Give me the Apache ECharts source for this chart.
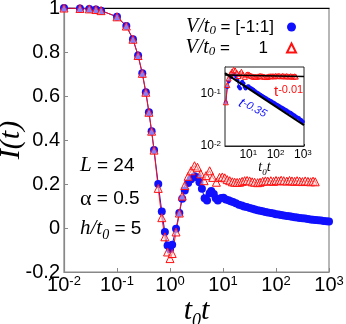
<!DOCTYPE html>
<html><head><meta charset="utf-8">
<script src="https://cdn.jsdelivr.net/npm/echarts@6/dist/echarts.min.js"></script>
<style>html,body{margin:0;padding:0;background:#fff}#c{width:346px;height:324px}</style>
</head><body><div id="c"></div>
<script>
const tBlue = [0.01,0.02,0.03,0.04,0.05,0.1,0.15,0.2,0.25,0.3,0.35,0.4,0.45,0.5,0.6,0.7,0.8,0.9,1.0,1.1,1.3,1.5,1.7,1.9,2.2,2.5,2.9,3.3,3.6,4.0,4.5,5.0,5.6,6.0,6.7,7.3,8.0,9.3,10.2,11.3,12.7,14,15.5,17.5,20,22.5,25,28,32,36,40,45,50,56,63,70,80,90,100,112,125,140,160,180,200,225,250,280,315,355,400,450,500,560,630,710,800,900,1000];
const iBlue = [1.0,0.998,0.996,0.993,0.988,0.96,0.918,0.858,0.784,0.703,0.617,0.526,0.44,0.354,0.20,0.075,-0.018,-0.079,-0.097,-0.076,-0.003,0.068,0.133,0.17,0.205,0.222,0.235,0.23,0.208,0.178,0.135,0.125,0.158,0.168,0.155,0.135,0.125,0.136,0.138,0.13,0.126,0.122,0.118,0.112,0.106,0.102,0.098,0.095,0.091,0.087,0.084,0.081,0.078,0.076,0.073,0.071,0.068,0.066,0.063,0.061,0.059,0.057,0.055,0.053,0.051,0.049,0.048,0.046,0.044,0.043,0.041,0.039,0.038,0.036,0.035,0.034,0.032,0.031,0.029];
const tRed = [0.01,0.02,0.03,0.04,0.05,0.1,0.15,0.2,0.25,0.3,0.35,0.4,0.45,0.5,0.6,0.7,0.8,0.9,1.0,1.1,1.3,1.5,1.7,1.9,2.2,2.5,2.9,3.3,3.8,4.4,4.8,5.6,6.4,7.5,8.6,9.7,10.8,12,13.4,15,16.6,18.5,20.6,23,25.6,28.5,31.8,35.5,39.5,45,50,56,63,70,80,90,100,112,125,140,160,180,200,225,250,280,315,355,400,450,500,550];
const iRed = [1.0,0.998,0.996,0.993,0.988,0.96,0.918,0.858,0.784,0.703,0.617,0.526,0.44,0.354,0.18,0.047,-0.04,-0.109,-0.139,-0.116,-0.018,0.068,0.145,0.193,0.235,0.26,0.283,0.276,0.246,0.215,0.238,0.26,0.23,0.208,0.23,0.232,0.228,0.22,0.215,0.21,0.208,0.207,0.208,0.212,0.215,0.216,0.214,0.21,0.208,0.206,0.208,0.212,0.214,0.213,0.215,0.212,0.216,0.214,0.217,0.215,0.213,0.216,0.214,0.212,0.215,0.213,0.211,0.214,0.212,0.21,0.213,0.21];
// fit lines in the inset (end points)
const fitSlow = [[1.4, 0.226], [1100, 0.211]];   // t^-0.01
const fitFast = [[1.4, 0.245], [1100, 0.025]];   // t^-0.35
const yTickLabels = ['-0.2','0','0.2','0.4','0.6','0.8','1'];

const SANS = 'Liberation Sans';
const SERIF = 'Liberation Serif';
const pair = (ts, vs, f) => ts.map((t, k) => [t, vs[k]]).filter(f || (() => true));
const insetFilter = p => p[0] >= 1.4 && p[1] > 0;
const powLabel = () => v => {
  const e = Math.log10(v);
  if (Math.abs(e - Math.round(e)) > 1e-6) return '';
  return '{b|10}{s|' + Math.round(e) + '}';
};

const chart = echarts.init(document.getElementById('c'), null, {renderer: 'canvas'});
chart.setOption({
  animation: false,
  backgroundColor: '#fff',
  grid: [
    {left: 64, right: 17, top: 8, bottom: 52, show: true, borderColor: '#888', borderWidth: 1.2, outerBoundsMode: 'none', containLabel: false},
    {left: 225, top: 67, width: 79, height: 79, show: true, borderColor: '#222', borderWidth: 1, backgroundColor: '#fff', z: 5, outerBoundsMode: 'none', containLabel: false}
  ],
  legend: {
    orient: 'vertical', right: 44, top: 12, align: 'right', itemWidth: 9, itemHeight: 9, itemGap: 1,
    selectedMode: false,
    data: [{name: 'blue', icon: 'circle'}, {name: 'red', icon: 'triangle'}],
    formatter: name => name === 'blue' ? '{i|V/t}{sub|0}{n| = [-1:1]}' : '{i|V/t}{sub|0}{n| =}{v|1}',
    textStyle: {
      rich: {
        i: {fontFamily: SERIF, fontStyle: 'italic', fontSize: 20, color: '#000'},
        sub: {fontFamily: SERIF, fontStyle: 'italic', fontSize: 13, color: '#000', verticalAlign: 'bottom'},
        n: {fontFamily: SANS, fontSize: 17, color: '#000', padding: [0, 8, 0, 0]},
        v: {fontFamily: SANS, fontSize: 17, color: '#000', width: 30, align: 'right', padding: [0, 14, 0, 0]}
      }
    }
  },
  xAxis: [
    {type: 'log', gridIndex: 0, min: 0.01, max: 1000, logBase: 10,
     axisLine: {onZero: false, lineStyle: {color: '#888', width: 1.2}},
     axisTick: {inside: true, length: 4, lineStyle: {color: '#888'}},
     splitLine: {show: false},
     axisLabel: {margin: 3, formatter: powLabel(), color: '#000',
       rich: {b: {fontFamily: SANS, fontSize: 20, color: '#000'}, s: {fontFamily: SANS, fontSize: 13, color: '#000', verticalAlign: 'top'}}},
     name: '{i|t}{sub|0}{i|t}', nameLocation: 'middle', nameGap: 20, nameMoveOverlap: false,
     nameTextStyle: {rich: {
       i: {fontFamily: SERIF, fontStyle: 'italic', fontSize: 30, color: '#000'},
       sub: {fontFamily: SERIF, fontStyle: 'italic', fontSize: 18, color: '#000', verticalAlign: 'bottom', padding: [20, 0, 0, 0]}}}
    },
    {type: 'log', gridIndex: 0, position: 'top', min: 0.01, max: 1000,
     axisLine: {onZero: false, lineStyle: {color: '#000', width: 1.2}}, axisTick: {show: false}, axisLabel: {show: false}, splitLine: {show: false}},
    {type: 'log', gridIndex: 1, min: 1.4, max: 1100,
     axisLine: {onZero: false, lineStyle: {color: '#222', width: 1}},
     axisTick: {inside: true, length: 2, lineStyle: {color: '#222'}},
     splitLine: {show: false},
     axisLabel: {margin: 3, formatter: powLabel(), color: '#000',
       rich: {b: {fontFamily: SANS, fontSize: 12, color: '#000'}, s: {fontFamily: SANS, fontSize: 8, color: '#000', verticalAlign: 'top'}}},
     name: '{i|t}{sub|0}{i|t}', nameLocation: 'middle', nameGap: 12, nameMoveOverlap: false,
     nameTextStyle: {rich: {
       i: {fontFamily: SERIF, fontStyle: 'italic', fontSize: 14, color: '#000'},
       sub: {fontFamily: SERIF, fontStyle: 'italic', fontSize: 9, color: '#000', verticalAlign: 'bottom', padding: [10, 0, 0, 0]}}}
    }
  ],
  yAxis: [
    {type: 'value', gridIndex: 0, min: -0.2, max: 1, interval: 0.2,
     axisLine: {show: true, onZero: false, lineStyle: {color: '#888', width: 1.2}},
     axisTick: {show: true, inside: true, length: 4, lineStyle: {color: '#888'}},
     splitLine: {show: false},
     axisLabel: {margin: 4, fontFamily: SANS, fontSize: 20, color: '#000',
       formatter: v => yTickLabels[Math.round((v + 0.2) / 0.2)]},
     name: '{i|I(t)}', nameLocation: 'middle', nameGap: 38, nameRotate: 90, nameMoveOverlap: false,
     nameTextStyle: {rich: {i: {fontFamily: SERIF, fontStyle: 'italic', fontSize: 30, color: '#000'}}}
    },
    {type: 'log', gridIndex: 1, min: 0.01, max: 0.32,
     axisLine: {onZero: false, lineStyle: {color: '#222', width: 1}},
     axisTick: {inside: true, length: 2, lineStyle: {color: '#222'}},
     splitLine: {show: false},
     axisLabel: {margin: 4, formatter: powLabel(), color: '#000',
       rich: {b: {fontFamily: SANS, fontSize: 12, color: '#000'}, s: {fontFamily: SANS, fontSize: 8, color: '#000', verticalAlign: 'top'}}}
    }
  ],
  series: [
    {name: 'blue', type: 'line', xAxisIndex: 0, yAxisIndex: 0, data: pair(tBlue, iBlue),
     symbol: 'circle', symbolSize: 8, showAllSymbol: true,
     itemStyle: {color: '#1010ff'}, lineStyle: {color: '#1010ff', width: 1}},
    {name: 'red', type: 'line', xAxisIndex: 0, yAxisIndex: 0, data: pair(tRed, iRed),
     symbol: 'triangle', symbolSize: 8, showAllSymbol: true,
     itemStyle: {color: 'rgba(255,235,235,0.5)', borderColor: '#ff1010', borderWidth: 1},
     lineStyle: {color: '#ff1010', width: 1}},
    {name: 'blueInset', type: 'line', xAxisIndex: 2, yAxisIndex: 1, data: pair(tBlue, iBlue, insetFilter),
     symbol: 'circle', symbolSize: 4, showAllSymbol: true, z: 6,
     itemStyle: {color: '#1010ff'}, lineStyle: {color: '#1010ff', width: 1}},
    {name: 'redInset', type: 'line', xAxisIndex: 2, yAxisIndex: 1, data: pair(tRed, iRed, insetFilter),
     symbol: 'triangle', symbolSize: 5, showAllSymbol: true, z: 6,
     itemStyle: {color: 'rgba(255,235,235,0.5)', borderColor: '#ff1010', borderWidth: 1},
     lineStyle: {color: '#ff1010', width: 1}},
    {name: 'fitSlow', type: 'line', xAxisIndex: 2, yAxisIndex: 1, data: fitSlow, showSymbol: false, z: 7,
     lineStyle: {color: '#000', width: 1.5}},
    {name: 'fitFast', type: 'line', xAxisIndex: 2, yAxisIndex: 1, data: fitFast, showSymbol: false, z: 7,
     lineStyle: {color: '#000', width: 2}}
  ],
  graphic: [
    {type: 'text', left: 80, top: 155, z: 10, style: {text: '{i|L}{n| = 24}', rich: {
      i: {fontFamily: SERIF, fontStyle: 'italic', fontSize: 21, fill: '#000'},
      n: {fontFamily: SANS, fontSize: 19, fill: '#000'}}}},
    {type: 'text', left: 80, top: 188, z: 10, style: {text: '{g|α}{n| = 0.5}', rich: {
      g: {fontFamily: SERIF, fontSize: 22, fill: '#000'},
      n: {fontFamily: SANS, fontSize: 19, fill: '#000'}}}},
    {type: 'text', left: 80, top: 218, z: 10, style: {text: '{i|h/t}{sub|0}{n| = 5}', rich: {
      i: {fontFamily: SERIF, fontStyle: 'italic', fontSize: 21, fill: '#000'},
      sub: {fontFamily: SERIF, fontStyle: 'italic', fontSize: 14, fill: '#000', verticalAlign: 'bottom', padding: [14, 0, 0, 0]},
      n: {fontFamily: SANS, fontSize: 19, fill: '#000'}}}},
    {type: 'text', left: 274, top: 84, z: 10, style: {text: '{b|t}{s|-0.01}', rich: {
      b: {fontFamily: SANS, fontSize: 15, fill: '#ff1010'},
      s: {fontFamily: SANS, fontSize: 11, fill: '#ff1010', verticalAlign: 'top'}}}},
    {type: 'text', x: 243, y: 96, rotation: -0.5, z: 10, style: {text: '{b|t}{s|-0.35}', rich: {
      b: {fontFamily: SANS, fontStyle: 'italic', fontSize: 14, fill: '#1010ff'},
      s: {fontFamily: SANS, fontStyle: 'italic', fontSize: 11, fill: '#1010ff', verticalAlign: 'top'}}}}
  ]
});
</script></body></html>
